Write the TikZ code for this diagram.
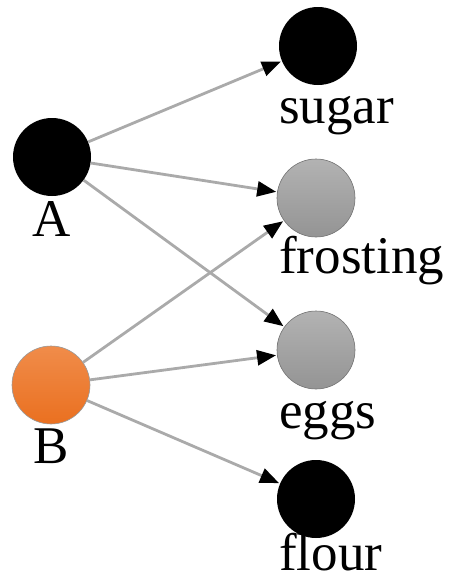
\documentclass[tikz,border=0pt]{standalone}
\usepackage{fontspec}
\setmainfont{Liberation Serif}
\usetikzlibrary{arrows.meta}
\begin{document}
\begin{tikzpicture}[x=1pt,y=-1pt,
  dot/.style={circle,inner sep=0pt,minimum size=78pt},
  blackdot/.style={dot,fill=black},
  graydot/.style={dot,draw=black!55,line width=0.6pt,top color=black!30,bottom color=black!42},
  orangedot/.style={dot,draw=black!40,line width=0.6pt,top color={rgb,255:red,240;green,140;blue,74},bottom color={rgb,255:red,234;green,112;blue,32}},
  lbl/.style={inner sep=0pt,font=\fontsize{53}{53}\selectfont},
  link/.style={draw={rgb,255:red,170;green,170;blue,170},line width=2.8pt,
    -{Triangle[length=19pt,width=15pt,fill=black,color=black]},shorten >=1pt}]
  \useasboundingbox (0,0) rectangle (451,581);
  % source nodes
  \node[blackdot] (A) at (52,157) {};
  \node[orangedot] (B) at (51,385) {};
  % target nodes
  \node[blackdot] (sugar) at (318,46) {};
  \node[graydot] (frosting) at (316,198) {};
  \node[graydot] (eggs) at (316,350) {};
  \node[blackdot] (flour) at (316,499) {};
  % labels
  \node[lbl,anchor=base] (lA) at (52,236) {A};
  \node[lbl,anchor=base] (lB) at (51,463) {B};
  \node[lbl,anchor=base west] (lsugar) at (279,123) {sugar};
  \node[lbl,anchor=base west] (lfrosting) at (279,273) {frosting};
  \node[lbl,anchor=base west] (leggs) at (279,428) {eggs};
  \node[lbl,anchor=base west,text depth=0pt] (lflour) at (279,570) {flour};
  % connectors
  \draw[link] (A) -- (sugar);
  \draw[link] (A) -- (frosting);
  \draw[link] (A) -- (eggs);
  \draw[link] (B) -- (frosting);
  \draw[link] (B) -- (eggs);
  \draw[link] (B) -- (flour);
\end{tikzpicture}
\end{document}
